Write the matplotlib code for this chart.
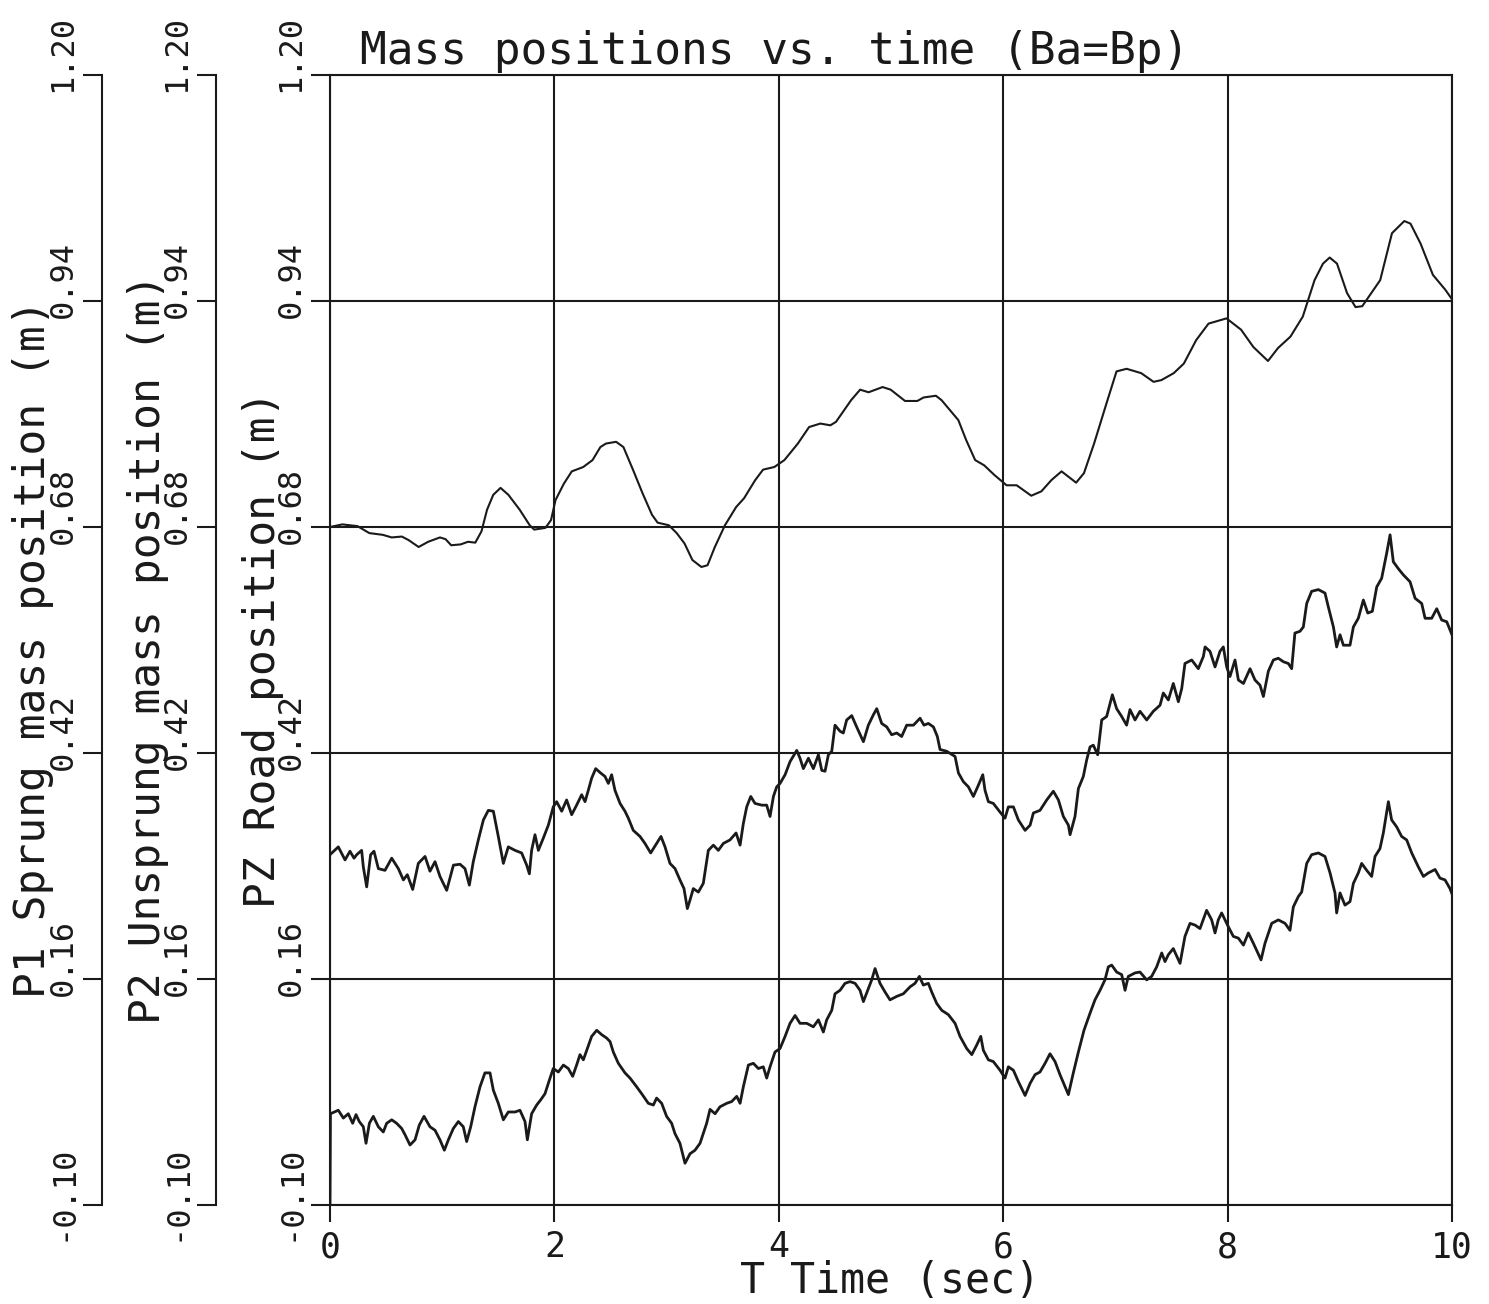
import matplotlib
matplotlib.use("Agg")
import matplotlib.pyplot as plt
from matplotlib.transforms import ScaledTranslation

plt.rcParams['font.family'] = ['DejaVu Sans Mono']

# ---------------- data ----------------
y_ticks = [-0.10, 0.16, 0.42, 0.68, 0.94, 1.20]
y_tick_labels = ["-0.10", "0.16", "0.42", "0.68", "0.94", "1.20"]
x_ticks = [0, 2, 4, 6, 8, 10]
x_tick_labels = ["0", "2", "4", "6", "8", "10"]

title = "Mass positions vs. time (Ba=Bp)"
x_label = "T Time (sec)"
y_label_p1 = "P1 Sprung mass position (m)"
y_label_p2 = "P2 Unsprung mass position (m)"
y_label_pz = "PZ Road position (m)"

# P1: sprung mass position (smooth curve)
p1_t = [0.00, 0.11, 0.245, 0.35, 0.47, 0.55, 0.64, 0.70, 0.79, 0.875, 0.98, 1.03, 1.08, 1.165,
        1.23, 1.295, 1.35, 1.40, 1.455, 1.52, 1.59, 1.69, 1.78, 1.82, 1.92, 1.97, 2.01, 2.085,
        2.155, 2.257, 2.34, 2.41, 2.46, 2.55, 2.615, 2.70, 2.785, 2.87, 2.92, 3.02, 3.09, 3.16,
        3.23, 3.31, 3.365, 3.43, 3.52, 3.62, 3.69, 3.79, 3.86, 3.96, 4.05, 4.17, 4.27, 4.37,
        4.46, 4.51, 4.645, 4.725, 4.80, 4.925, 4.997, 5.125, 5.235, 5.29, 5.40, 5.45, 5.60,
        5.67, 5.75, 5.83, 5.92, 6.03, 6.12, 6.25, 6.34, 6.43, 6.52, 6.65, 6.72, 6.81, 6.92,
        7.01, 7.10, 7.23, 7.34, 7.41, 7.52, 7.61, 7.72, 7.83, 7.99, 8.12, 8.23, 8.36, 8.45,
        8.56, 8.67, 8.775, 8.85, 8.91, 8.975, 9.065, 9.14, 9.20, 9.28, 9.36, 9.465, 9.575,
        9.63, 9.72, 9.83, 9.94, 10.0]
p1_v = [0.680, 0.683, 0.681, 0.673, 0.671, 0.668, 0.669, 0.665, 0.657, 0.663, 0.668, 0.666, 0.659, 0.660,
        0.663, 0.662, 0.675, 0.700, 0.717, 0.725, 0.717, 0.700, 0.682, 0.677, 0.679, 0.688, 0.711, 0.730,
        0.744, 0.749, 0.757, 0.772, 0.776, 0.778, 0.772, 0.746, 0.719, 0.694, 0.685, 0.682, 0.673, 0.661,
        0.642, 0.634, 0.636, 0.657, 0.682, 0.703, 0.713, 0.734, 0.746, 0.749, 0.757, 0.776, 0.795, 0.799,
        0.797, 0.801, 0.826, 0.838, 0.835, 0.841, 0.838, 0.825, 0.825, 0.829, 0.831, 0.826, 0.803,
        0.780, 0.757, 0.751, 0.740, 0.728, 0.728, 0.716, 0.721, 0.734, 0.744, 0.731, 0.742, 0.776, 0.822,
        0.859, 0.862, 0.857, 0.847, 0.849, 0.857, 0.868, 0.895, 0.914, 0.920, 0.907, 0.887, 0.871, 0.886,
        0.899, 0.922, 0.964, 0.983, 0.990, 0.983, 0.949, 0.933, 0.934, 0.949, 0.964, 1.018, 1.032,
        1.029, 1.006, 0.970, 0.953, 0.942]

# P2: unsprung mass position
p2_t = [0.000, 0.074, 0.134, 0.178, 0.214, 0.238, 0.282, 0.297, 0.327, 0.362, 0.392, 0.431, 0.49,
        0.55, 0.609, 0.654, 0.689, 0.737, 0.787, 0.847, 0.891, 0.936, 0.98, 1.04, 1.10, 1.159,
        1.203, 1.242, 1.277, 1.322, 1.367, 1.411, 1.456, 1.50, 1.545, 1.589, 1.649, 1.708, 1.753,
        1.777, 1.797, 1.827, 1.857, 1.901, 1.946, 1.99, 2.02, 2.065, 2.109, 2.154, 2.198, 2.243,
        2.273, 2.302, 2.332, 2.368, 2.412, 2.451, 2.481, 2.51, 2.54, 2.585, 2.629, 2.659, 2.703,
        2.763, 2.807, 2.858, 2.911, 2.95, 2.986, 3.03, 3.075, 3.119, 3.155, 3.185, 3.209, 3.238,
        3.283, 3.327, 3.372, 3.417, 3.461, 3.506, 3.565, 3.619, 3.655, 3.684, 3.714, 3.75, 3.788,
        3.848, 3.892, 3.922, 3.952, 3.981, 4.011, 4.056, 4.1, 4.16, 4.189, 4.219, 4.264, 4.308,
        4.353, 4.383, 4.412, 4.442, 4.472, 4.501, 4.546, 4.575, 4.605, 4.65, 4.694, 4.754, 4.798,
        4.843, 4.873, 4.917, 4.962, 5.006, 5.051, 5.095, 5.14, 5.2, 5.259, 5.294, 5.333, 5.378,
        5.413, 5.437, 5.496, 5.571, 5.601, 5.645, 5.69, 5.734, 5.779, 5.818, 5.838, 5.868, 5.912,
        5.972, 6.016, 6.046, 6.091, 6.135, 6.195, 6.24, 6.269, 6.328, 6.388, 6.447, 6.492, 6.536,
        6.581, 6.596, 6.64, 6.67, 6.714, 6.744, 6.774, 6.803, 6.842, 6.878, 6.922, 6.973, 7.011,
        7.056, 7.1, 7.13, 7.175, 7.219, 7.279, 7.338, 7.398, 7.427, 7.472, 7.516, 7.561, 7.591,
        7.62, 7.68, 7.739, 7.784, 7.799, 7.843, 7.888, 7.932, 7.962, 7.992, 8.021, 8.066, 8.096,
        8.141, 8.2, 8.244, 8.289, 8.319, 8.363, 8.408, 8.452, 8.497, 8.541, 8.571, 8.6, 8.645,
        8.675, 8.705, 8.749, 8.809, 8.868, 8.898, 8.943, 8.972, 9.002, 9.032, 9.091, 9.121, 9.165,
        9.21, 9.249, 9.29, 9.329, 9.373, 9.418, 9.448, 9.477, 9.522, 9.566, 9.626, 9.671, 9.73,
        9.76, 9.819, 9.864, 9.908, 9.953, 10.0]
p2_v = [0.303, 0.312, 0.297, 0.307, 0.299, 0.303, 0.308, 0.289, 0.266, 0.303, 0.307, 0.287, 0.285,
        0.299, 0.287, 0.274, 0.280, 0.263, 0.293, 0.301, 0.284, 0.295, 0.278, 0.262, 0.291, 0.292,
        0.287, 0.268, 0.295, 0.320, 0.343, 0.354, 0.353, 0.324, 0.293, 0.312, 0.308, 0.305, 0.291,
        0.281, 0.308, 0.326, 0.308, 0.322, 0.337, 0.358, 0.364, 0.353, 0.366, 0.349, 0.360, 0.372,
        0.364, 0.377, 0.391, 0.402, 0.397, 0.393, 0.385, 0.395, 0.377, 0.362, 0.353, 0.345, 0.331,
        0.324, 0.316, 0.305, 0.316, 0.324, 0.312, 0.293, 0.287, 0.274, 0.264, 0.241, 0.251, 0.264,
        0.260, 0.270, 0.308, 0.314, 0.308, 0.316, 0.320, 0.328, 0.314, 0.339, 0.358, 0.370, 0.362,
        0.360, 0.360, 0.347, 0.370, 0.381, 0.385, 0.395, 0.410, 0.423, 0.414, 0.402, 0.414, 0.402,
        0.418, 0.400, 0.399, 0.418, 0.422, 0.452, 0.445, 0.443, 0.458, 0.463, 0.450, 0.433, 0.452,
        0.464, 0.471, 0.454, 0.450, 0.441, 0.443, 0.439, 0.452, 0.452, 0.460, 0.452, 0.454, 0.450,
        0.439, 0.424, 0.422, 0.416, 0.397, 0.387, 0.381, 0.370, 0.383, 0.395, 0.377, 0.364, 0.362,
        0.352, 0.345, 0.358, 0.358, 0.343, 0.331, 0.337, 0.351, 0.354, 0.366, 0.376, 0.366, 0.347,
        0.337, 0.326, 0.347, 0.379, 0.393, 0.412, 0.427, 0.429, 0.418, 0.458, 0.462, 0.487, 0.471,
        0.462, 0.452, 0.470, 0.458, 0.468, 0.458, 0.468, 0.475, 0.489, 0.481, 0.500, 0.479, 0.494,
        0.523, 0.527, 0.517, 0.531, 0.542, 0.537, 0.519, 0.537, 0.542, 0.519, 0.508, 0.527, 0.504,
        0.500, 0.517, 0.504, 0.498, 0.485, 0.514, 0.527, 0.529, 0.525, 0.523, 0.517, 0.558, 0.560,
        0.565, 0.592, 0.606, 0.608, 0.604, 0.588, 0.565, 0.542, 0.556, 0.544, 0.544, 0.565, 0.575,
        0.596, 0.581, 0.583, 0.611, 0.621, 0.650, 0.671, 0.640, 0.632, 0.625, 0.617, 0.598, 0.592,
        0.575, 0.575, 0.586, 0.573, 0.571, 0.556]

# PZ: road position
pz_t = [0.000, 0.004, 0.074, 0.119, 0.163, 0.202, 0.232, 0.261, 0.297, 0.321, 0.351, 0.386, 0.431,
        0.475, 0.505, 0.55, 0.594, 0.639, 0.668, 0.713, 0.758, 0.796, 0.838, 0.891, 0.936, 0.98,
        1.019, 1.055, 1.099, 1.144, 1.188, 1.218, 1.254, 1.292, 1.337, 1.381, 1.426, 1.456, 1.50,
        1.545, 1.589, 1.649, 1.693, 1.738, 1.759, 1.797, 1.842, 1.878, 1.916, 1.961, 1.99, 2.035,
        2.08, 2.124, 2.163, 2.198, 2.228, 2.258, 2.288, 2.332, 2.377, 2.421, 2.466, 2.496, 2.525,
        2.57, 2.629, 2.674, 2.733, 2.778, 2.837, 2.882, 2.911, 2.956, 3.0, 3.045, 3.075, 3.119,
        3.164, 3.209, 3.253, 3.298, 3.357, 3.387, 3.432, 3.476, 3.536, 3.58, 3.625, 3.655, 3.684,
        3.729, 3.773, 3.818, 3.862, 3.892, 3.922, 3.966, 4.011, 4.056, 4.1, 4.145, 4.189, 4.249,
        4.308, 4.353, 4.397, 4.427, 4.472, 4.501, 4.546, 4.59, 4.635, 4.68, 4.724, 4.754, 4.798,
        4.828, 4.858, 4.902, 4.947, 4.991, 5.051, 5.11, 5.17, 5.214, 5.253, 5.288, 5.333, 5.363,
        5.407, 5.452, 5.511, 5.571, 5.615, 5.675, 5.72, 5.764, 5.8, 5.823, 5.868, 5.912, 5.972,
        6.016, 6.046, 6.091, 6.135, 6.195, 6.24, 6.284, 6.328, 6.373, 6.417, 6.462, 6.506, 6.551,
        6.581, 6.625, 6.67, 6.72, 6.775, 6.818, 6.863, 6.907, 6.937, 6.967, 7.011, 7.056, 7.086,
        7.115, 7.175, 7.219, 7.279, 7.323, 7.368, 7.413, 7.442, 7.472, 7.516, 7.576, 7.62, 7.665,
        7.71, 7.754, 7.813, 7.858, 7.888, 7.917, 7.947, 7.977, 8.007, 8.051, 8.096, 8.141, 8.185,
        8.23, 8.298, 8.333, 8.393, 8.452, 8.512, 8.556, 8.586, 8.631, 8.66, 8.705, 8.749, 8.809,
        8.868, 8.913, 8.957, 8.972, 9.002, 9.046, 9.091, 9.121, 9.165, 9.195, 9.24, 9.284, 9.314,
        9.358, 9.388, 9.433, 9.462, 9.507, 9.551, 9.596, 9.641, 9.7, 9.745, 9.789, 9.849, 9.893,
        9.938, 9.982, 10.0]
pz_v = [-0.100, 0.005, 0.009, 0.000, 0.005, -0.006, 0.004, -0.004, -0.010, -0.029, -0.006, 0.002, -0.010,
        -0.016, -0.006, -0.002, -0.006, -0.012, -0.019, -0.031, -0.025, -0.008, 0.002, -0.010, -0.014, -0.025,
        -0.037, -0.025, -0.012, -0.004, -0.010, -0.027, -0.010, 0.013, 0.036, 0.052, 0.052, 0.032, 0.017,
        -0.002, 0.007, 0.007, 0.009, -0.004, -0.025, 0.005, 0.015, 0.021, 0.028, 0.046, 0.057, 0.053,
        0.061, 0.057, 0.048, 0.061, 0.073, 0.067, 0.078, 0.094, 0.101, 0.096, 0.092, 0.088, 0.076,
        0.063, 0.052, 0.046, 0.036, 0.028, 0.017, 0.015, 0.023, 0.017, 0.002, -0.006, -0.018, -0.029,
        -0.052, -0.041, -0.037, -0.029, -0.006, 0.010, 0.005, 0.013, 0.017, 0.019, 0.025, 0.017, 0.036,
        0.061, 0.063, 0.057, 0.059, 0.046, 0.059, 0.076, 0.080, 0.094, 0.109, 0.118, 0.109, 0.109,
        0.105, 0.113, 0.099, 0.113, 0.124, 0.143, 0.147, 0.155, 0.157, 0.155, 0.147, 0.134, 0.149,
        0.159, 0.172, 0.155, 0.145, 0.136, 0.140, 0.143, 0.151, 0.155, 0.163, 0.153, 0.155, 0.145,
        0.132, 0.124, 0.119, 0.109, 0.094, 0.080, 0.073, 0.084, 0.094, 0.078, 0.067, 0.065, 0.055,
        0.046, 0.059, 0.055, 0.042, 0.026, 0.040, 0.050, 0.053, 0.063, 0.074, 0.065, 0.050, 0.036,
        0.027, 0.052, 0.076, 0.101, 0.121, 0.136, 0.147, 0.159, 0.174, 0.176, 0.168, 0.165, 0.147,
        0.163, 0.167, 0.168, 0.159, 0.163, 0.174, 0.190, 0.180, 0.188, 0.195, 0.178, 0.209, 0.224,
        0.222, 0.218, 0.239, 0.228, 0.213, 0.228, 0.236, 0.228, 0.220, 0.209, 0.207, 0.199, 0.213,
        0.201, 0.182, 0.201, 0.224, 0.228, 0.224, 0.216, 0.243, 0.255, 0.260, 0.293, 0.303, 0.305,
        0.301, 0.282, 0.259, 0.236, 0.259, 0.245, 0.249, 0.270, 0.282, 0.293, 0.285, 0.278, 0.301,
        0.310, 0.328, 0.364, 0.343, 0.335, 0.324, 0.320, 0.305, 0.289, 0.278, 0.282, 0.286, 0.276,
        0.274, 0.264, 0.258]

# ---------------- layout ----------------
W, H = 1489, 1304
fig = plt.figure(figsize=(W / 100, H / 100), dpi=100)


def fx(px):
    return px / W


def fy(py):
    return 1 - py / H


ink = '#1a1a1a'
lw_axis = 1.5
y_min, y_max = -0.10, 1.20

ax = fig.add_axes([fx(330), fy(1205), fx(1452) - fx(330), fy(75) - fy(1205)])
ax1 = fig.add_axes([fx(102), fy(1205), 0.0004, fy(75) - fy(1205)])
ax2 = fig.add_axes([fx(216), fy(1205), 0.0004, fy(75) - fy(1205)])

ax.plot(p1_t, p1_v, color=ink, lw=1.5)
ax.plot(p2_t, p2_v, color=ink, lw=2.0)
ax.plot(pz_t, pz_v, color=ink, lw=2.0)

ax.set_xlim(0, 10)
ax.set_ylim(y_min, y_max)
ax.set_xticks(x_ticks)
ax.set_xticklabels(x_tick_labels)
ax.grid(True, color=ink, lw=1.5)
for s in ax.spines.values():
    s.set_color(ink)
    s.set_linewidth(lw_axis)
ax.tick_params(axis='x', direction='out', length=12, width=lw_axis, pad=6,
               labelsize=25, colors=ink)

for a in (ax1, ax2):
    a.set_facecolor('none')
    a.set_ylim(y_min, y_max)
    a.set_xticks([])
    for side in ('top', 'right', 'bottom'):
        a.spines[side].set_visible(False)
    a.spines['left'].set_color(ink)
    a.spines['left'].set_linewidth(lw_axis)

offset = ScaledTranslation(0, 0.60, fig.dpi_scale_trans)
for a in (ax, ax1, ax2):
    a.set_yticks(y_ticks)
    a.set_yticklabels(y_tick_labels)
    a.tick_params(axis='y', direction='out', length=14, width=lw_axis, pad=8,
                  labelsize=23, colors=ink)
    for lab in a.get_yticklabels():
        lab.set_rotation(90)
        lab.set_rotation_mode('anchor')
        lab.set_ha('right')
        lab.set_va('baseline')
        lab.set_transform(lab.get_transform() + offset)

# axis labels
for a, text, bx in ((ax1, y_label_p1, 45), (ax2, y_label_p2, 160), (ax, y_label_pz, 275)):
    a.set_ylabel(text, fontsize=31, color=ink, rotation=90)
    a.yaxis.label.set_rotation_mode('anchor')
    a.yaxis.label.set_ha('center')
    a.yaxis.label.set_va('baseline')
    a.yaxis.set_label_coords(fx(bx), fy(649), transform=fig.transFigure)

ax.set_xlabel(x_label, fontsize=30, color=ink)
ax.xaxis.label.set_va('baseline')
ax.xaxis.set_label_coords(fx(890), fy(1293), transform=fig.transFigure)

ax.set_title(title, fontsize=32, color=ink, ha='left', va='baseline', pad=0,
             x=(360 - 330) / 1122, y=(1205 - 64) / 1130)

fig.savefig('out.png', dpi=100, facecolor='white')
